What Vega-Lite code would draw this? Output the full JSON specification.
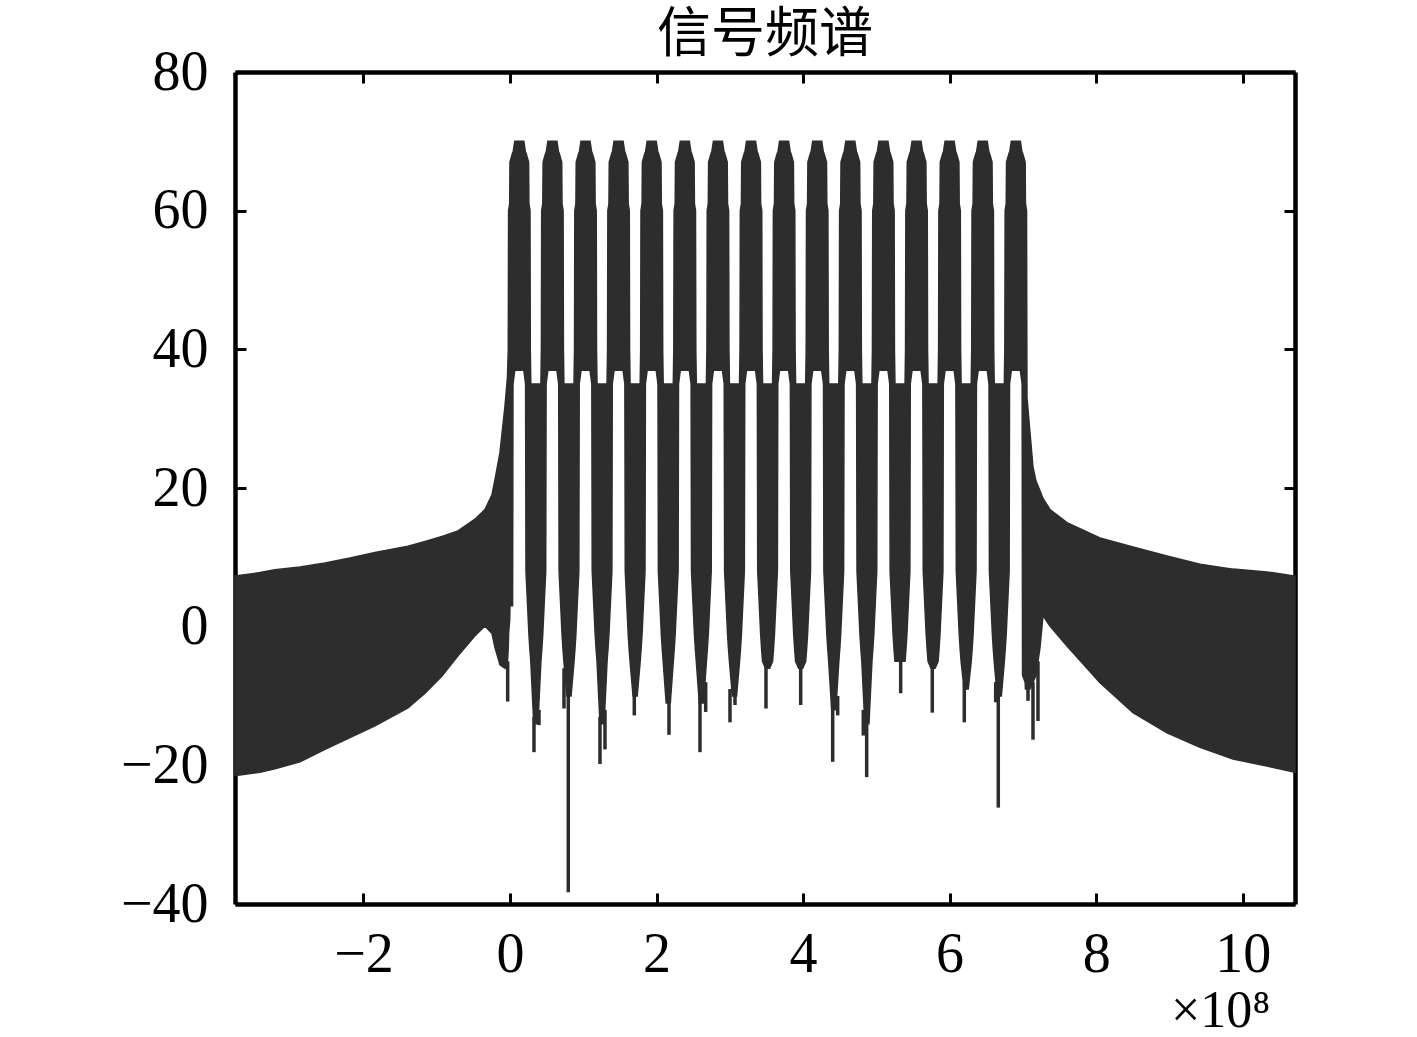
{
"$schema":"https://vega.github.io/schema/vega-lite/v6.json",
"width":1060,"height":832,
"autosize":{"type":"none"},
"padding":{"left":235,"top":72,"right":122,"bottom":133},
"background":"white",
"title":{"text":"信号频谱","font":"Noto Sans CJK SC","fontSize":54,"fontWeight":"normal","color":"black","offset":-19},
"config":{"view":{"stroke":null},"axis":{"grid":false,"domainColor":"black","domainWidth":4.5,"tickColor":"black","tickWidth":3,"tickSize":-11,"labelFont":"Liberation Serif","labelFontSize":56,"labelColor":"black","titleFont":"Liberation Serif","titleColor":"black","titleFontWeight":"normal"}},
"datasets":{
"band":[
{"f":-3.7532,"hi":7.3,"lo":-21.5},{"f":-3.4121,"hi":7.8,"lo":-21.0},{"f":-3.2073,"hi":8.2,"lo":-20.5},{"f":-2.8661,"hi":8.6,"lo":-19.5},{"f":-2.5249,"hi":9.2,"lo":-17.7},{"f":-2.1837,"hi":9.9,"lo":-16.0},{"f":-1.8425,"hi":10.7,"lo":-14.3},{"f":-1.3921,"hi":11.6,"lo":-11.7},{"f":-1.1601,"hi":12.3,"lo":-9.6},{"f":-0.9281,"hi":13.0,"lo":-7.1},{"f":-0.7097,"hi":13.8,"lo":-4.2},{"f":-0.4777,"hi":15.5,"lo":-1.3},{"f":-0.3412,"hi":16.9,"lo":0.1},{"f":-0.2457,"hi":19.0,"lo":-1.0},{"f":-0.2047,"hi":21.2,"lo":-3.0},{"f":-0.1365,"hi":25.1,"lo":-5.5},{"f":-0.0682,"hi":31.8,"lo":-6.0},{"f":-0.0341,"hi":36.0,"lo":-5.0},
{"f":-0.0231,"hi":40,"lo":-3},{"f":-0.0190,"hi":60,"lo":-1},{"f":-0.0040,"hi":61,"lo":1},{"f":0.0001,"hi":67,"lo":3},{"f":0.0356,"hi":68.3,"lo":3},{"f":0.0410,"hi":68.3,"lo":35},{"f":0.0656,"hi":70,"lo":37},{"f":0.127,"hi":70,"lo":37},{"f":0.1884,"hi":70,"lo":37},{"f":0.2130,"hi":68.3,"lo":35},{"f":0.2184,"hi":68.3,"lo":8},{"f":0.2539,"hi":67,"lo":0},{"f":0.2580,"hi":61,"lo":-1},{"f":0.2730,"hi":60,"lo":-3.5},{"f":0.2771,"hi":40,"lo":-4},{"f":0.2840,"hi":35,"lo":-5},{"f":0.3249,"hi":35,"lo":-14},
{"f":0.3811,"hi":35,"lo":-14},{"f":0.4220,"hi":35,"lo":-5},{"f":0.4289,"hi":40,"lo":-4},{"f":0.4330,"hi":60,"lo":-3.5},{"f":0.4480,"hi":61,"lo":-1},{"f":0.4521,"hi":67,"lo":0},{"f":0.4876,"hi":68.3,"lo":8},{"f":0.4930,"hi":68.3,"lo":35},{"f":0.5176,"hi":70,"lo":37},{"f":0.579,"hi":70,"lo":37},{"f":0.6404,"hi":70,"lo":37},{"f":0.6650,"hi":68.3,"lo":35},{"f":0.6704,"hi":68.3,"lo":8},{"f":0.7059,"hi":67,"lo":0},{"f":0.7100,"hi":61,"lo":-1},{"f":0.7250,"hi":60,"lo":-3.5},{"f":0.7291,"hi":40,"lo":-4},{"f":0.7360,"hi":35,"lo":-5},{"f":0.7769,"hi":35,"lo":-10},
{"f":0.8331,"hi":35,"lo":-10},{"f":0.8740,"hi":35,"lo":-5},{"f":0.8809,"hi":40,"lo":-4},{"f":0.8850,"hi":60,"lo":-3.5},{"f":0.9000,"hi":61,"lo":-1},{"f":0.9041,"hi":67,"lo":0},{"f":0.9396,"hi":68.3,"lo":8},{"f":0.9450,"hi":68.3,"lo":35},{"f":0.9696,"hi":70,"lo":37},{"f":1.031,"hi":70,"lo":37},{"f":1.0924,"hi":70,"lo":37},{"f":1.1170,"hi":68.3,"lo":35},{"f":1.1224,"hi":68.3,"lo":8},{"f":1.1579,"hi":67,"lo":0},{"f":1.1620,"hi":61,"lo":-1},{"f":1.1770,"hi":60,"lo":-3.5},{"f":1.1811,"hi":40,"lo":-4},{"f":1.1880,"hi":35,"lo":-5},{"f":1.2289,"hi":35,"lo":-14},
{"f":1.2841,"hi":35,"lo":-14},{"f":1.3250,"hi":35,"lo":-5},{"f":1.3319,"hi":40,"lo":-4},{"f":1.3360,"hi":60,"lo":-3.5},{"f":1.3510,"hi":61,"lo":-1},{"f":1.3551,"hi":67,"lo":0},{"f":1.3906,"hi":68.3,"lo":8},{"f":1.3960,"hi":68.3,"lo":35},{"f":1.4206,"hi":70,"lo":37},{"f":1.482,"hi":70,"lo":37},{"f":1.5434,"hi":70,"lo":37},{"f":1.5680,"hi":68.3,"lo":35},{"f":1.5734,"hi":68.3,"lo":8},{"f":1.6089,"hi":67,"lo":0},{"f":1.6130,"hi":61,"lo":-1},{"f":1.6280,"hi":60,"lo":-3.5},{"f":1.6321,"hi":40,"lo":-4},{"f":1.6390,"hi":35,"lo":-5},{"f":1.6799,"hi":35,"lo":-10},
{"f":1.7361,"hi":35,"lo":-10},{"f":1.7770,"hi":35,"lo":-5},{"f":1.7839,"hi":40,"lo":-4},{"f":1.7880,"hi":60,"lo":-3.5},{"f":1.8030,"hi":61,"lo":-1},{"f":1.8071,"hi":67,"lo":0},{"f":1.8426,"hi":68.3,"lo":8},{"f":1.8480,"hi":68.3,"lo":35},{"f":1.8726,"hi":70,"lo":37},{"f":1.934,"hi":70,"lo":37},{"f":1.9954,"hi":70,"lo":37},{"f":2.0200,"hi":68.3,"lo":35},{"f":2.0254,"hi":68.3,"lo":8},{"f":2.0609,"hi":67,"lo":0},{"f":2.0650,"hi":61,"lo":-1},{"f":2.0800,"hi":60,"lo":-3.5},{"f":2.0841,"hi":40,"lo":-4},{"f":2.0910,"hi":35,"lo":-5},{"f":2.1319,"hi":35,"lo":-11},
{"f":2.1881,"hi":35,"lo":-11},{"f":2.2290,"hi":35,"lo":-5},{"f":2.2359,"hi":40,"lo":-4},{"f":2.2400,"hi":60,"lo":-3.5},{"f":2.2550,"hi":61,"lo":-1},{"f":2.2591,"hi":67,"lo":0},{"f":2.2946,"hi":68.3,"lo":8},{"f":2.3000,"hi":68.3,"lo":35},{"f":2.3246,"hi":70,"lo":37},{"f":2.386,"hi":70,"lo":37},{"f":2.4474,"hi":70,"lo":37},{"f":2.4720,"hi":68.3,"lo":35},{"f":2.4774,"hi":68.3,"lo":8},{"f":2.5129,"hi":67,"lo":0},{"f":2.5170,"hi":61,"lo":-1},{"f":2.5320,"hi":60,"lo":-3.5},{"f":2.5361,"hi":40,"lo":-4},{"f":2.5430,"hi":35,"lo":-5},{"f":2.5839,"hi":35,"lo":-11},
{"f":2.6401,"hi":35,"lo":-11},{"f":2.6810,"hi":35,"lo":-5},{"f":2.6879,"hi":40,"lo":-4},{"f":2.6920,"hi":60,"lo":-3.5},{"f":2.7070,"hi":61,"lo":-1},{"f":2.7111,"hi":67,"lo":0},{"f":2.7466,"hi":68.3,"lo":8},{"f":2.7520,"hi":68.3,"lo":35},{"f":2.7766,"hi":70,"lo":37},{"f":2.838,"hi":70,"lo":37},{"f":2.8994,"hi":70,"lo":37},{"f":2.9240,"hi":68.3,"lo":35},{"f":2.9294,"hi":68.3,"lo":8},{"f":2.9649,"hi":67,"lo":0},{"f":2.9690,"hi":61,"lo":-1},{"f":2.9840,"hi":60,"lo":-3.5},{"f":2.9881,"hi":40,"lo":-4},{"f":2.9950,"hi":35,"lo":-5},{"f":3.0359,"hi":35,"lo":-10},
{"f":3.0921,"hi":35,"lo":-10},{"f":3.1330,"hi":35,"lo":-5},{"f":3.1399,"hi":40,"lo":-4},{"f":3.1440,"hi":60,"lo":-3.5},{"f":3.1590,"hi":61,"lo":-1},{"f":3.1631,"hi":67,"lo":0},{"f":3.1986,"hi":68.3,"lo":8},{"f":3.2040,"hi":68.3,"lo":35},{"f":3.2286,"hi":70,"lo":37},{"f":3.290,"hi":70,"lo":37},{"f":3.3514,"hi":70,"lo":37},{"f":3.3760,"hi":68.3,"lo":35},{"f":3.3814,"hi":68.3,"lo":8},{"f":3.4169,"hi":67,"lo":0},{"f":3.4210,"hi":61,"lo":-1},{"f":3.4360,"hi":60,"lo":-3.5},{"f":3.4401,"hi":40,"lo":-4},{"f":3.4470,"hi":35,"lo":-5},{"f":3.4879,"hi":35,"lo":-6},
{"f":3.5431,"hi":35,"lo":-6},{"f":3.5840,"hi":35,"lo":-5},{"f":3.5909,"hi":40,"lo":-4},{"f":3.5950,"hi":60,"lo":-3.5},{"f":3.6100,"hi":61,"lo":-1},{"f":3.6141,"hi":67,"lo":0},{"f":3.6496,"hi":68.3,"lo":8},{"f":3.6550,"hi":68.3,"lo":35},{"f":3.6796,"hi":70,"lo":37},{"f":3.741,"hi":70,"lo":37},{"f":3.8024,"hi":70,"lo":37},{"f":3.8270,"hi":68.3,"lo":35},{"f":3.8324,"hi":68.3,"lo":8},{"f":3.8679,"hi":67,"lo":0},{"f":3.8720,"hi":61,"lo":-1},{"f":3.8870,"hi":60,"lo":-3.5},{"f":3.8911,"hi":40,"lo":-4},{"f":3.8980,"hi":35,"lo":-5},{"f":3.9389,"hi":35,"lo":-6},
{"f":3.9951,"hi":35,"lo":-6},{"f":4.0360,"hi":35,"lo":-5},{"f":4.0429,"hi":40,"lo":-4},{"f":4.0470,"hi":60,"lo":-3.5},{"f":4.0620,"hi":61,"lo":-1},{"f":4.0661,"hi":67,"lo":0},{"f":4.1016,"hi":68.3,"lo":8},{"f":4.1070,"hi":68.3,"lo":35},{"f":4.1316,"hi":70,"lo":37},{"f":4.193,"hi":70,"lo":37},{"f":4.2544,"hi":70,"lo":37},{"f":4.2790,"hi":68.3,"lo":35},{"f":4.2844,"hi":68.3,"lo":8},{"f":4.3199,"hi":67,"lo":0},{"f":4.3240,"hi":61,"lo":-1},{"f":4.3390,"hi":60,"lo":-3.5},{"f":4.3431,"hi":40,"lo":-4},{"f":4.3500,"hi":35,"lo":-5},{"f":4.3909,"hi":35,"lo":-12},
{"f":4.4471,"hi":35,"lo":-12},{"f":4.4880,"hi":35,"lo":-5},{"f":4.4949,"hi":40,"lo":-4},{"f":4.4990,"hi":60,"lo":-3.5},{"f":4.5140,"hi":61,"lo":-1},{"f":4.5181,"hi":67,"lo":0},{"f":4.5536,"hi":68.3,"lo":8},{"f":4.5590,"hi":68.3,"lo":35},{"f":4.5836,"hi":70,"lo":37},{"f":4.645,"hi":70,"lo":37},{"f":4.7064,"hi":70,"lo":37},{"f":4.7310,"hi":68.3,"lo":35},{"f":4.7364,"hi":68.3,"lo":8},{"f":4.7719,"hi":67,"lo":0},{"f":4.7760,"hi":61,"lo":-1},{"f":4.7910,"hi":60,"lo":-3.5},{"f":4.7951,"hi":40,"lo":-4},{"f":4.8020,"hi":35,"lo":-5},{"f":4.8429,"hi":35,"lo":-14},
{"f":4.8991,"hi":35,"lo":-14},{"f":4.9400,"hi":35,"lo":-5},{"f":4.9469,"hi":40,"lo":-4},{"f":4.9510,"hi":60,"lo":-3.5},{"f":4.9660,"hi":61,"lo":-1},{"f":4.9701,"hi":67,"lo":0},{"f":5.0056,"hi":68.3,"lo":8},{"f":5.0110,"hi":68.3,"lo":35},{"f":5.0356,"hi":70,"lo":37},{"f":5.097,"hi":70,"lo":37},{"f":5.1584,"hi":70,"lo":37},{"f":5.1830,"hi":68.3,"lo":35},{"f":5.1884,"hi":68.3,"lo":8},{"f":5.2239,"hi":67,"lo":0},{"f":5.2280,"hi":61,"lo":-1},{"f":5.2430,"hi":60,"lo":-3.5},{"f":5.2471,"hi":40,"lo":-4},{"f":5.2540,"hi":35,"lo":-5},{"f":5.2949,"hi":35,"lo":-5},
{"f":5.3511,"hi":35,"lo":-5},{"f":5.3920,"hi":35,"lo":-5},{"f":5.3989,"hi":40,"lo":-4},{"f":5.4030,"hi":60,"lo":-3.5},{"f":5.4180,"hi":61,"lo":-1},{"f":5.4221,"hi":67,"lo":0},{"f":5.4576,"hi":68.3,"lo":8},{"f":5.4630,"hi":68.3,"lo":35},{"f":5.4876,"hi":70,"lo":37},{"f":5.549,"hi":70,"lo":37},{"f":5.6104,"hi":70,"lo":37},{"f":5.6350,"hi":68.3,"lo":35},{"f":5.6404,"hi":68.3,"lo":8},{"f":5.6759,"hi":67,"lo":0},{"f":5.6800,"hi":61,"lo":-1},{"f":5.6950,"hi":60,"lo":-3.5},{"f":5.6991,"hi":40,"lo":-4},{"f":5.7060,"hi":35,"lo":-5},{"f":5.7469,"hi":35,"lo":-6},
{"f":5.8021,"hi":35,"lo":-6},{"f":5.8430,"hi":35,"lo":-5},{"f":5.8499,"hi":40,"lo":-4},{"f":5.8540,"hi":60,"lo":-3.5},{"f":5.8690,"hi":61,"lo":-1},{"f":5.8731,"hi":67,"lo":0},{"f":5.9086,"hi":68.3,"lo":8},{"f":5.9140,"hi":68.3,"lo":35},{"f":5.9386,"hi":70,"lo":37},{"f":6.000,"hi":70,"lo":37},{"f":6.0614,"hi":70,"lo":37},{"f":6.0860,"hi":68.3,"lo":35},{"f":6.0914,"hi":68.3,"lo":8},{"f":6.1269,"hi":67,"lo":0},{"f":6.1310,"hi":61,"lo":-1},{"f":6.1460,"hi":60,"lo":-3.5},{"f":6.1501,"hi":40,"lo":-4},{"f":6.1570,"hi":35,"lo":-5},{"f":6.1979,"hi":35,"lo":-9},
{"f":6.2541,"hi":35,"lo":-9},{"f":6.2950,"hi":35,"lo":-5},{"f":6.3019,"hi":40,"lo":-4},{"f":6.3060,"hi":60,"lo":-3.5},{"f":6.3210,"hi":61,"lo":-1},{"f":6.3251,"hi":67,"lo":0},{"f":6.3606,"hi":68.3,"lo":8},{"f":6.3660,"hi":68.3,"lo":35},{"f":6.3906,"hi":70,"lo":37},{"f":6.452,"hi":70,"lo":37},{"f":6.5134,"hi":70,"lo":37},{"f":6.5380,"hi":68.3,"lo":35},{"f":6.5434,"hi":68.3,"lo":8},{"f":6.5789,"hi":67,"lo":0},{"f":6.5830,"hi":61,"lo":-1},{"f":6.5980,"hi":60,"lo":-3.5},{"f":6.6021,"hi":40,"lo":-4},{"f":6.6090,"hi":35,"lo":-5},{"f":6.6499,"hi":35,"lo":-10},
{"f":6.7061,"hi":35,"lo":-10},{"f":6.7470,"hi":35,"lo":-5},{"f":6.7539,"hi":40,"lo":-4},{"f":6.7580,"hi":60,"lo":-3.5},{"f":6.7730,"hi":61,"lo":-1},{"f":6.7771,"hi":67,"lo":0},{"f":6.8126,"hi":68.3,"lo":8},{"f":6.8180,"hi":68.3,"lo":35},{"f":6.8426,"hi":70,"lo":37},{"f":6.904,"hi":70,"lo":37},{"f":6.9654,"hi":70,"lo":37},{"f":6.9900,"hi":68.3,"lo":35},{"f":6.9954,"hi":68.3,"lo":-7},{"f":7.0309,"hi":67,"lo":-8},{"f":7.0350,"hi":61,"lo":-9},{"f":7.0500,"hi":60,"lo":-9},{"f":7.0541,"hi":40,"lo":-9},
{"f":7.0562,"hi":33,"lo":-9},{"f":7.0971,"hi":28,"lo":-9},{"f":7.1380,"hi":23,"lo":-8},{"f":7.1790,"hi":21,"lo":-7},{"f":7.2336,"hi":19.6,"lo":-3},{"f":7.2745,"hi":18.5,"lo":1.6},{"f":7.3700,"hi":16.9,"lo":0.1},{"f":7.6021,"hi":15.0,"lo":-2.8},{"f":8.0524,"hi":12.8,"lo":-8.1},{"f":8.5028,"hi":11.5,"lo":-12.4},{"f":8.9669,"hi":10.2,"lo":-15.3},{"f":9.4172,"hi":9.0,"lo":-17.4},{"f":9.8676,"hi":8.3,"lo":-19.1},{"f":10.3316,"hi":7.9,"lo":-20.1},{"f":10.714,"hi":7.3,"lo":-21.0}
],
"spikes":[
{"f":-0.0314,"top":-5,"bot":-10.8},{"f":0.3276,"top":-13,"bot":-18.1},{"f":0.3958,"top":-12,"bot":-14.2},{"f":0.7370,"top":-6,"bot":-11.8},{"f":0.7957,"top":-9,"bot":-38.3},{"f":1.2283,"top":-13,"bot":-19.8},{"f":1.2966,"top":-12,"bot":-17.7},{"f":1.6965,"top":-9,"bot":-12.8},{"f":2.1701,"top":-10,"bot":-15.6},{"f":2.5932,"top":-10,"bot":-18.1},{"f":2.6710,"top":-8,"bot":-12.3},{"f":3.0026,"top":-9,"bot":-13.8},{"f":3.0709,"top":-8,"bot":-11.3},{"f":3.4939,"top":-5,"bot":-11.8},{"f":3.9675,"top":-5,"bot":-11.3},{"f":4.4043,"top":-11,"bot":-19.5},{"f":4.4725,"top":-10,"bot":-12.8},{"f":4.8219,"top":-12,"bot":-15.7},{"f":4.8683,"top":-13,"bot":-21.7},{"f":5.3324,"top":-4,"bot":-9.6},{"f":5.7637,"top":-5,"bot":-12.4},{"f":6.2004,"top":-8,"bot":-13.8},{"f":6.6289,"top":-8,"bot":-10.9},{"f":6.6644,"top":-9,"bot":-26.1},{"f":7.0698,"top":-9,"bot":-10.7},{"f":7.1380,"top":-8,"bot":-16.3},{"f":7.2062,"top":-5,"bot":-13.6}
]
},
"layer":[
{"data":{"name":"band"},
 "mark":{"type":"area","color":"#2d2d2d","stroke":"#2d2d2d","strokeWidth":1.5,"opacity":1},
 "encoding":{
  "x":{"field":"f","type":"quantitative","scale":{"domain":[-3.753,10.714],"nice":false,"zero":false},
       "axis":{"orient":"bottom","values":[-2,0,2,4,6,8,10],"labelPadding":34,"title":"×10⁸","titleFontSize":52,"titleX":1035,"titleY":122,"titleAlign":"right","titleBaseline":"alphabetic","titleAngle":0}},
  "y":{"field":"hi","type":"quantitative","scale":{"domain":[-40,80],"nice":false,"zero":false},
       "axis":{"orient":"left","values":[-40,-20,0,20,40,60,80],"labelPadding":38,"title":null}},
  "y2":{"field":"lo"}
 }},
{"data":{"name":"spikes"},
 "mark":{"type":"rule","color":"#2d2d2d","strokeWidth":3.5},
 "encoding":{
  "x":{"field":"f","type":"quantitative","scale":{"domain":[-3.753,10.714],"nice":false,"zero":false},
       "axis":{"orient":"top","values":[-2,0,2,4,6,8,10],"labels":false,"title":null}},
  "y":{"field":"top","type":"quantitative","scale":{"domain":[-40,80],"nice":false,"zero":false},
       "axis":{"orient":"right","values":[-40,-20,0,20,40,60,80],"labels":false,"title":null}},
  "y2":{"field":"bot"}
 }}
],
"resolve":{"axis":{"x":"independent","y":"independent"}}
}
